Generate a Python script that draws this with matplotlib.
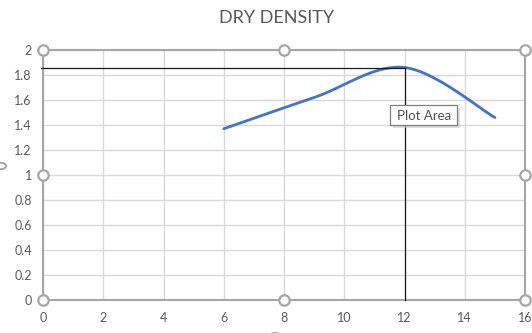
import numpy as np
import matplotlib
matplotlib.use("Agg")
import matplotlib.pyplot as plt
from matplotlib.patches import Circle, Rectangle

# ---- data ----
water_content = [6, 9, 12, 15]
dry_density = [1.37, 1.62, 1.86, 1.46]
max_dry_density = 1.86
optimum_water = 12
x_ticks = [0, 2, 4, 6, 8, 10, 12, 14, 16]
y_ticks = [0, 0.2, 0.4, 0.6, 0.8, 1, 1.2, 1.4, 1.6, 1.8, 2]
title = "DRY DENSITY"
tooltip = "Plot Area"


def excel_smooth(xs, ys, n=40):
    """Excel-style smoothed line (Catmull-Rom Bezier through the points)."""
    P = np.column_stack([xs, ys]).astype(float)
    out = []
    for i in range(len(P) - 1):
        p0 = P[i - 1] if i > 0 else P[i]
        p1, p2 = P[i], P[i + 1]
        p3 = P[i + 2] if i + 2 < len(P) else P[i + 1]
        c1 = p1 + (p2 - p0) / 6.0
        c2 = p2 - (p3 - p1) / 6.0
        t = np.linspace(0, 1, n)[:, None]
        seg = ((1 - t) ** 3) * p1 + 3 * ((1 - t) ** 2) * t * c1 + 3 * (1 - t) * t ** 2 * c2 + t ** 3 * p2
        out.append(seg if i == 0 else seg[1:])
    seg = np.vstack(out)
    return seg[:, 0], seg[:, 1]


W, H = 532, 333
fig = plt.figure(figsize=(W / 100, H / 100), dpi=100)
fig.patch.set_facecolor("white")

L, R, T, B = 43, 525, 50, 300
ax = fig.add_axes([L / W, 1 - B / H, (R - L) / W, (B - T) / H])
ax.set_xlim(x_ticks[0], x_ticks[-1])
ax.set_ylim(y_ticks[0], y_ticks[-1])
ax.set_xticks(x_ticks)
ax.set_yticks(y_ticks)
ax.set_xticklabels([f"{v:g}" for v in x_ticks])
ax.set_yticklabels([f"{v:g}" for v in y_ticks])

font = "Lato"
label_color = "#595959"
ax.tick_params(length=0, labelsize=9, labelcolor=label_color)
ax.tick_params(axis="x", pad=9)
ax.tick_params(axis="y", pad=8)
for lab in ax.get_xticklabels() + ax.get_yticklabels():
    lab.set_fontfamily(font)

ax.grid(True, color="#d9d9d9", linewidth=1.0)
ax.set_axisbelow(True)
for s in ax.spines.values():
    s.set_color("#a6a6a6")
    s.set_linewidth(1.5)

# smoothed series
sx, sy = excel_smooth(water_content, dry_density)
ax.plot(sx, sy, color="#4472C4", linewidth=2.0, solid_capstyle="round", zorder=3)

# reference lines (max dry density / optimum water content)
ax.plot([-0.05, optimum_water], [max_dry_density, max_dry_density], color="#1a1a1a",
        linewidth=0.9, clip_on=False, zorder=5)
ax.plot([optimum_water, optimum_water], [0, max_dry_density], color="#1a1a1a",
        linewidth=0.9, clip_on=False, zorder=5)

# selection handles on the plot area
hx = [0, 0.5, 1, 0, 1, 0, 0.5, 1]
hy = [0, 0, 0, 0.5, 0.5, 1, 1, 1]
ax.plot(hx, hy, linestyle="none", marker="o", markersize=7.5, markerfacecolor="white",
        markeredgecolor="#a6a6a6", markeredgewidth=1.6, transform=ax.transAxes,
        clip_on=False, zorder=6)

# partial chart-area handles at the figure edges
for cx, cy in [(1, 166), (275, 336)]:
    fig.patches.append(Circle((cx / W, 1 - cy / H), 5 / W, transform=fig.transFigure,
                              facecolor="white", edgecolor="#a6a6a6", linewidth=1.4))

# tooltip "Plot Area"
bx0, by0, bx1, by1 = 390, 105, 457, 125
fig.patches.append(Rectangle(((bx0 + 3) / W, 1 - (by1 + 3) / H), (bx1 - bx0) / W, (by1 - by0) / H,
                             transform=fig.transFigure, facecolor="#c8c8c8", edgecolor="none",
                             alpha=0.6, zorder=1))
fig.patches.append(Rectangle((bx0 / W, 1 - by1 / H), (bx1 - bx0) / W, (by1 - by0) / H,
                             transform=fig.transFigure, facecolor="white", edgecolor="#808080",
                             linewidth=0.9, zorder=2))
fig.text((bx0 + bx1) / 2 / W + 1 / W, 1 - 116 / H, tooltip, ha="center", va="center",
         fontsize=9.5, color="#505050", fontfamily=font, zorder=3)

# title
fig.text(277 / W, 1 - 18 / H, title, ha="center", va="center", fontsize=13,
         color=label_color, fontfamily=font)

fig.savefig("out.png", dpi=100, facecolor="white")
